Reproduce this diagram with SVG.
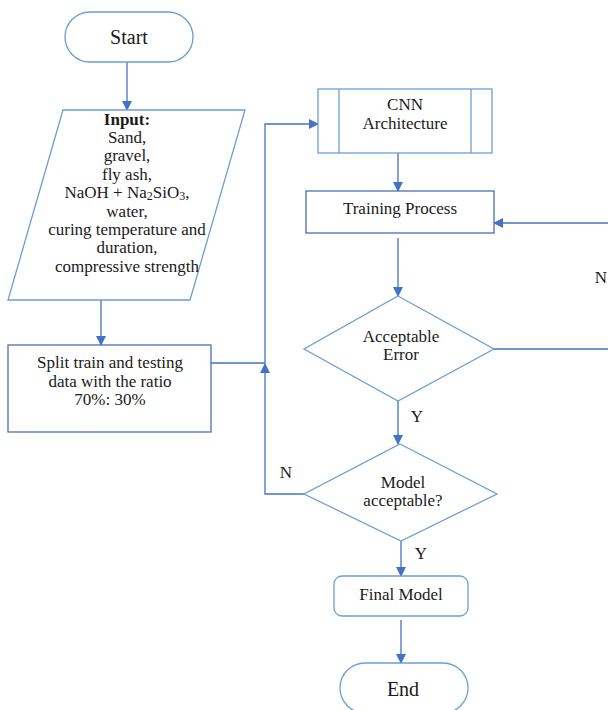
<svg xmlns="http://www.w3.org/2000/svg" width="608" height="710" viewBox="0 0 608 710" font-family="'Liberation Serif', 'Times New Roman', serif">
<style>
.s{fill:#fff;stroke:#6a9fd6;stroke-width:1.3}
.d{fill:#fff;stroke:#4a6fb5;stroke-width:1.3}
.c{fill:none;stroke:#4472c4;stroke-width:1.3}
text{font-size:17px;fill:#1a1a1a;text-anchor:middle}
.big{font-size:20px}
</style>
<defs>
<marker id="a" markerWidth="10" markerHeight="10" refX="9" refY="5" orient="auto" markerUnits="userSpaceOnUse">
<path d="M0,0 L10,5 L0,10 z" fill="#4472c4"/>
</marker>
</defs>
<g id="connectors">
<line class="c" x1="127" y1="62" x2="127" y2="110" marker-end="url(#a)"/>
<line class="c" x1="101" y1="300" x2="101" y2="345" marker-end="url(#a)"/>
<polyline class="c" points="211,363 265,363 265,124 318,124" marker-end="url(#a)"/>
<polyline class="c" points="304,494 265,494 265,364" marker-end="url(#a)"/>
<line class="c" x1="398" y1="153" x2="398" y2="191" marker-end="url(#a)"/>
<line class="c" x1="398" y1="238" x2="398" y2="296" marker-end="url(#a)"/>
<polyline class="c" points="494,349 612,349 612,223 494,223" marker-end="url(#a)"/>
<line class="c" x1="398" y1="401" x2="398" y2="444" marker-end="url(#a)"/>
<line class="c" x1="401" y1="541" x2="401" y2="576" marker-end="url(#a)"/>
<line class="c" x1="401" y1="620" x2="401" y2="663" marker-end="url(#a)"/>
<text x="601" y="283">N</text>
<text x="417" y="422">Y</text>
<text x="286" y="478">N</text>
<text x="421" y="559">Y</text>
</g>
<g id="start">
<rect class="s" x="65" y="12" width="128" height="50" rx="25"/>
<text class="big" x="129" y="44">Start</text>
</g>
<g id="input">
<polygon class="s" points="63,110 245,110 190,300 8,300"/>
<text x="127" y="125" style="font-weight:bold">Input:</text>
<text x="127" y="143">Sand,</text>
<text x="127" y="161">gravel,</text>
<text x="127" y="180">fly ash,</text>
<text x="127" y="198">NaOH + Na<tspan style="font-size:12px" dy="2">2</tspan><tspan dy="-2">SiO</tspan><tspan style="font-size:12px" dy="2">3</tspan><tspan dy="-2">,</tspan></text>
<text x="127" y="217">water,</text>
<text x="127" y="235">curing temperature and</text>
<text x="127" y="253">duration,</text>
<text x="127" y="272">compressive strength</text>
</g>
<g id="split">
<rect class="d" x="8" y="345" width="203" height="87"/>
<text x="110" y="368">Split train and testing</text>
<text x="110" y="387">data with the ratio</text>
<text x="110" y="405">70%: 30%</text>
</g>
<g id="cnn">
<rect class="s" x="318" y="89" width="174" height="64"/>
<line class="s" x1="339" y1="89" x2="339" y2="153"/>
<line class="s" x1="471" y1="89" x2="471" y2="153"/>
<text x="405" y="110">CNN</text>
<text x="405" y="129">Architecture</text>
</g>
<g id="training">
<rect class="d" x="306" y="191" width="188" height="42"/>
<text x="400" y="214">Training Process</text>
</g>
<g id="error">
<polygon class="s" points="398,296 494,349 398,401 304,349"/>
<text x="401" y="342">Acceptable</text>
<text x="401" y="360">Error</text>
</g>
<g id="model">
<polygon class="s" points="400,444 497,494 401,541 304,494"/>
<text x="403" y="488">Model</text>
<text x="403" y="506">acceptable?</text>
</g>
<g id="final">
<rect class="s" x="334" y="576" width="134" height="40" rx="8"/>
<text x="401" y="600">Final Model</text>
</g>
<g id="end">
<rect class="s" x="340" y="663" width="128" height="50" rx="25"/>
<text class="big" x="403" y="696">End</text>
</g>
</svg>
